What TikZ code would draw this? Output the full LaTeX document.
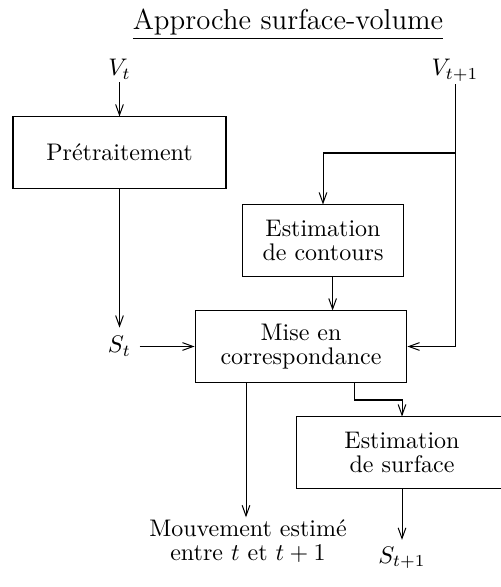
\documentclass[tikz,border=0pt]{standalone}
\usetikzlibrary{arrows.meta}
\begin{document}
\begin{tikzpicture}[x=0.41667pt,y=-0.41667pt,
  box/.style={draw,line width=0.42pt,minimum height=29.6pt,align=center,inner sep=0pt,
    font=\fontsize{10pt}{10pt}\selectfont},
  lbl/.style={inner sep=1pt},
  conn/.style={line width=0.42pt,-{Straight Barb[length=4.4pt,width=3.2pt]}},
  wire/.style={line width=0.42pt}]
\useasboundingbox (0,0) rectangle (501,587);
\clip (0,0) rectangle (501,587);
% title
\node[anchor=base,inner sep=0pt,font=\large] (title) at (288,29.5) {\underline{Approche surface-volume}};
% labels
\node[lbl,anchor=base] (vt) at (119.5,76) {$V_t$};
\node[lbl,anchor=base] (vt1) at (455,76) {$V_{t+1}$};
\node[anchor=base] (st) at (119.5,352.5) {$S_t$};
\node[inner sep=2.6pt,anchor=base] (st1) at (402,563) {$S_{t+1}$};
\node[lbl,anchor=base,align=center,font=\fontsize{10pt}{9.6pt}\selectfont] (mouv) at (248,560) {Mouvement estimé\\entre $t$ et $t+1$};
% boxes
\node[box,minimum width=88.75pt] (pre) at (119.5,152.5) {Prétraitement};
\node[box,minimum width=66.7pt] (cont) at (323,240.5) {Estimation\\de contours};
\node[box,minimum width=88.3pt] (mise) at (301,346.5) {Mise en\\correspondance};
\node[box,minimum width=88.3pt] (surf) at (402,452.5) {Estimation\\de surface};
% coordinates
\coordinate (br) at (455,153);
\coordinate (m1) at (246,382);
\coordinate (m2) at (354,382);
\coordinate (bend) at (354,400);
% connectors
\draw[conn] (vt.south) -- (vt.south |- pre.north);
\draw[conn] (pre.south) -- (st.north);
\draw[conn] (st.east |- mise.west) -- (mise.west);
\draw[conn] (vt1.south) |- (mise.east);
\draw[conn] (br) -| (cont.north);
\draw[conn] ([xshift=4]cont.south) -- ([xshift=4]cont.south |- mise.north);
\draw[conn] (m1) -- (m1 |- mouv.north);
\draw[conn] (m2) -- (bend) -| (surf.north);
\draw[conn] (surf.south) -- (st1.north);
\end{tikzpicture}
\end{document}
